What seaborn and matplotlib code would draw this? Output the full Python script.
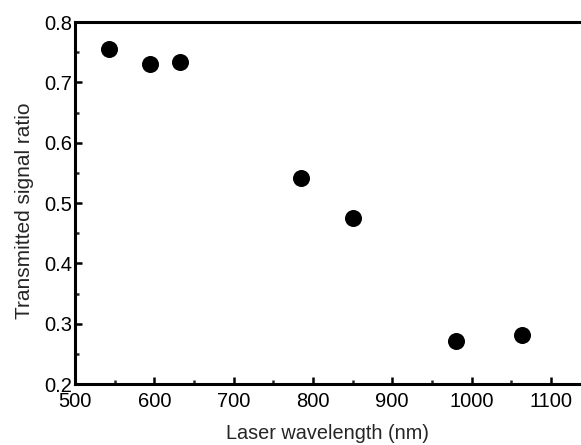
import matplotlib
matplotlib.use("Agg")
import matplotlib.pyplot as plt
import seaborn as sns
import pandas as pd
from matplotlib.ticker import MultipleLocator

wavelength = [543, 594, 633, 785, 850, 980, 1064]
ratio = [0.755, 0.730, 0.733, 0.542, 0.475, 0.272, 0.282]
df = pd.DataFrame({"wavelength": wavelength, "ratio": ratio})

sns.set_theme(style="ticks")
plt.rcParams['font.family'] = ['Liberation Sans', 'DejaVu Sans']

fig = plt.figure(figsize=(5.81, 4.45), dpi=100)
ax = fig.add_axes([0.129, 0.137, 0.871, 0.8135])
sns.scatterplot(data=df, x="wavelength", y="ratio", ax=ax, color="black",
                s=150, edgecolor="black", linewidth=0, legend=False)

ax.set_xlim(500, 1138)
ax.set_ylim(0.2, 0.8)
ax.xaxis.set_major_locator(MultipleLocator(100))
ax.xaxis.set_minor_locator(MultipleLocator(50))
ax.yaxis.set_minor_locator(MultipleLocator(0.05))
ax.set_yticks([0.2, 0.3, 0.4, 0.5, 0.6, 0.7, 0.8])
ax.set_yticklabels(["0.2", "0.3", "0.4", "0.5", "0.6", "0.7", "0.8"])

for side in ["left", "bottom", "top"]:
    ax.spines[side].set_linewidth(2.2)
    ax.spines[side].set_color("black")
ax.spines["right"].set_visible(False)

ax.tick_params(which="major", direction="in", length=5, width=1.8, labelsize=14.5,
               colors="black")
ax.tick_params(axis="x", which="major", pad=6)
ax.tick_params(axis="y", which="major", pad=2)
ax.tick_params(which="minor", direction="in", length=3, width=1.8)
ax.tick_params(top=False, right=False, which="both")

ax.set_xlabel("Laser wavelength (nm)", fontsize=14.3, labelpad=9)
ax.set_ylabel("Transmitted signal ratio", fontsize=15, labelpad=8)
ax.yaxis.set_label_coords(-0.081, 0.48)

fig.savefig("out.png", dpi=100)
